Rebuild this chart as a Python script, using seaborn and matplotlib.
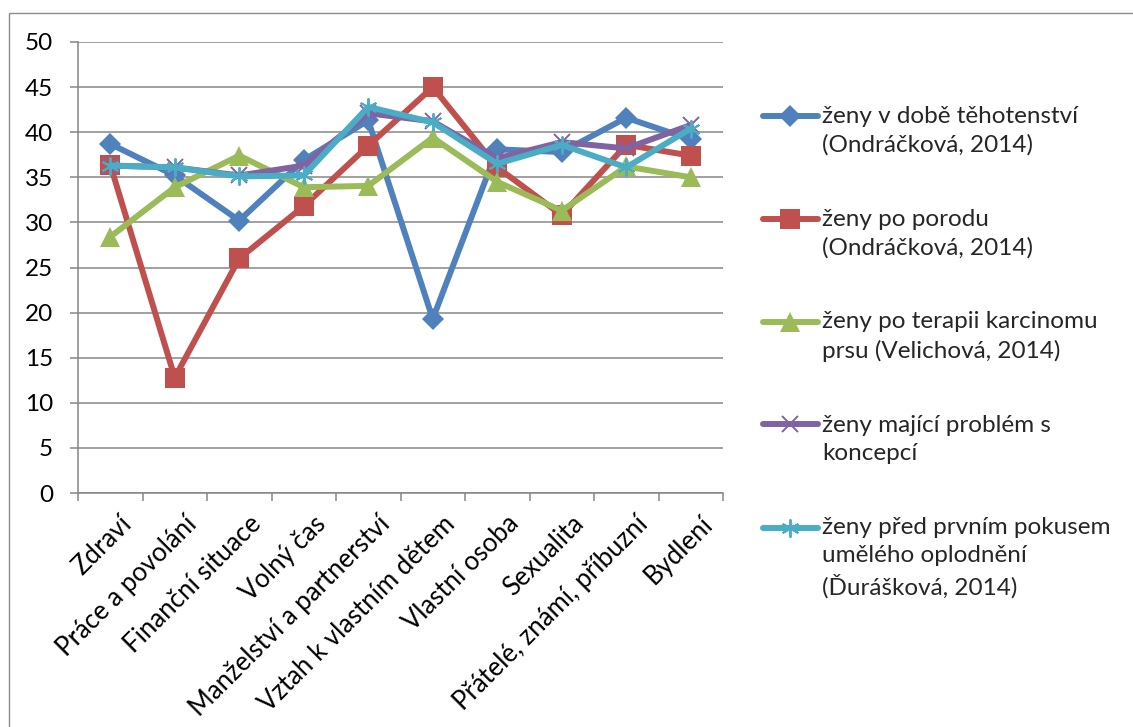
import matplotlib
matplotlib.use("Agg")
import matplotlib.pyplot as plt
import matplotlib.transforms as mtransforms
from matplotlib.legend_handler import HandlerLine2D
from matplotlib.patches import Rectangle
from matplotlib.ticker import FixedLocator
import seaborn as sns
import pandas as pd

# Areas of life (x axis)
categories = [
    "Zdraví", "Práce a povolání", "Finanční situace", "Volný čas",
    "Manželství a partnerství", "Vztah k vlastním dětem", "Vlastní osoba",
    "Sexualita", "Přátelé, známí, příbuzní", "Bydlení",
]

# Mean scores per group
tehotne = [38.7, 35.2, 30.2, 36.9, 41.3, 19.3, 38.1, 37.8, 41.6, 39.2]
po_porodu = [36.4, 12.8, 26.0, 31.8, 38.5, 45.0, 36.1, 30.8, 38.6, 37.4]
karcinom = [28.4, 33.9, 37.4, 33.9, 34.05, 39.4, 34.5, 31.3, 36.2, 35.0]
koncepce = [36.3, 36.1, 35.2, 36.3, 42.1, 41.2, 37.1, 38.9, 38.2, 40.8]
oplodneni = [36.3, 36.1, 35.1, 35.2, 42.8, 41.1, 36.5, 38.6, 36.1, 40.4]

series_labels = [
    "ženy v době těhotenství\n(Ondráčková, 2014)",
    "ženy po porodu\n(Ondráčková, 2014)",
    "ženy po terapii karcinomu\nprsu (Velichová, 2014)",
    "ženy mající problém s\nkoncepcí",
    "ženy před prvním pokusem\numělého oplodnění\n(Ďurášková, 2014)",
]

sns.set_theme(style="white")
plt.rcParams["font.family"] = ["Lato", "DejaVu Sans"]

W, H = 1133, 727
FS = 17.5
fig = plt.figure(figsize=(W / 100, H / 100), dpi=100)
ax = fig.add_axes([78 / W, 1 - 493 / H, 645 / W, 451 / H])

# Chart-area frame
fig.patches.append(Rectangle((9 / W, -0.2), 2.0, 1.2 - 13 / H,
                             transform=fig.transFigure, fill=False,
                             edgecolor="#8c8c8c", linewidth=1.0))

grey = "#868686"
colors = ["#4F81BD", "#C0504D", "#9BBB59", "#8064A2", "#4BACC6"]
markers = [
    dict(marker="D", markersize=11.5, markeredgewidth=0),
    dict(marker="s", markersize=14.5, markeredgewidth=0),
    dict(marker="^", markersize=15, markeredgewidth=0),
    dict(marker="x", markersize=12, markeredgewidth=1.4),
    dict(marker=(6, 2, 0), markersize=13, markeredgewidth=1.4),
]
values = [tehotne, po_porodu, karcinom, koncepce, oplodneni]

for vals, lab, col, mk in zip(values, series_labels, colors, markers):
    df = pd.DataFrame({"oblast": categories, "skore": vals})
    sns.lineplot(data=df, x="oblast", y="skore", sort=False, ax=ax,
                 label=lab, color=col, markeredgecolor=col, markerfacecolor=col,
                 linewidth=4.3, zorder=3, **mk)

ax.set_xlim(-0.5, len(categories) - 0.5)
ax.set_ylim(0, 50)
ax.set_yticks(range(0, 51, 5))
ax.set_xlabel("")
ax.set_ylabel("")

ax.yaxis.grid(True, color=grey, linewidth=1.1)
ax.xaxis.grid(False)
ax.set_axisbelow(True)
for side in ("top", "right"):
    ax.spines[side].set_visible(False)
for side in ("left", "bottom"):
    ax.spines[side].set_color(grey)
    ax.spines[side].set_linewidth(1.1)

ax.tick_params(axis="y", which="major", direction="out", length=6, width=1.1,
               color=grey, pad=12, labelsize=FS, labelcolor="black", left=True)
ax.set_xticks(range(len(categories)))
ax.set_xticklabels(categories, rotation=45, ha="right", va="top",
                   rotation_mode="anchor", fontsize=18.5, color="black")
ax.tick_params(axis="x", which="major", length=0, pad=13, bottom=True)
shift_right = mtransforms.ScaledTranslation(0.09, 0, fig.dpi_scale_trans)
for lbl in ax.get_xticklabels():
    lbl.set_transform(lbl.get_transform() + shift_right)
ax.xaxis.set_minor_locator(FixedLocator([i - 0.5 for i in range(len(categories) + 1)]))
ax.tick_params(axis="x", which="minor", direction="out", length=6, width=1.1,
               color=grey, bottom=True)


class FirstLineHandler(HandlerLine2D):
    """Line handle aligned with the first line of a multi-line label."""

    def __init__(self, shift, **kw):
        super().__init__(**kw)
        self.shift = shift

    def create_artists(self, legend, orig_handle, xdescent, ydescent,
                       width, height, fontsize, trans):
        arts = super().create_artists(legend, orig_handle, xdescent, ydescent,
                                      width, height, fontsize, trans)
        tr = mtransforms.Affine2D().translate(0, self.shift) + trans
        for a in arts:
            a.set_transform(tr)
        return arts


handles, labels = ax.get_legend_handles_labels()
line_pt = 21.6
handler_map = {h: FirstLineHandler(shift=(lab.count("\n")) * line_pt / 2)
               for h, lab in zip(handles, labels)}
leg = ax.legend(handles, labels, handler_map=handler_map,
                loc="upper left", bbox_to_anchor=(763 / W, 1 - 106 / H),
                bbox_transform=fig.transFigure, frameon=False, fontsize=FS,
                borderpad=0, borderaxespad=0, handlelength=2.26,
                handletextpad=0.17, labelspacing=2.18)
for t in leg.get_texts():
    t.set_linespacing(1.41)

fig.savefig("out.png", dpi=100)
